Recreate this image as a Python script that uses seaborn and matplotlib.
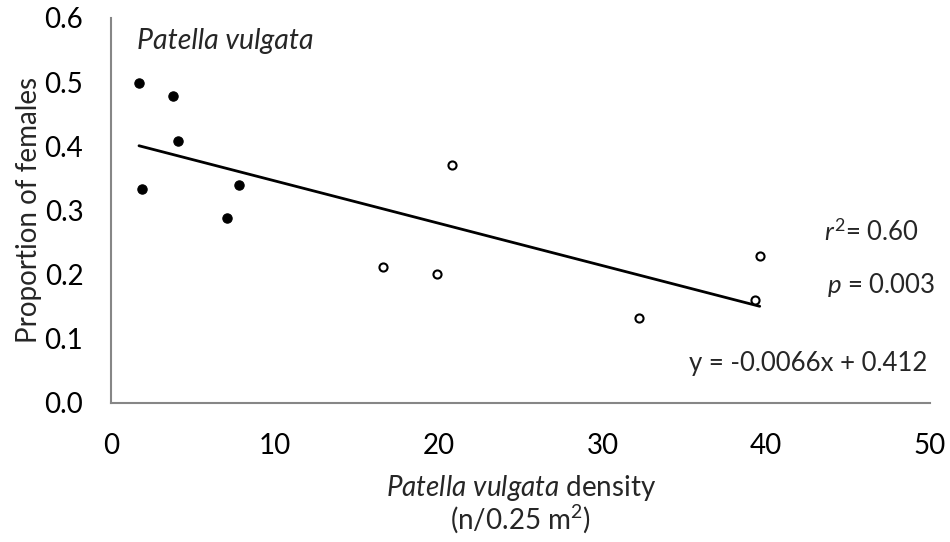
import numpy as np
import pandas as pd
import matplotlib
matplotlib.use("Agg")
import matplotlib.pyplot as plt
import seaborn as sns

# Low-density sites (filled) and high-density sites (open)
low_density = [1.7, 3.8, 4.1, 1.9, 7.8, 7.1]
low_females = [0.498, 0.478, 0.408, 0.333, 0.340, 0.288]
high_density = [16.6, 19.9, 20.8, 32.2, 39.3, 39.6]
high_females = [0.212, 0.201, 0.371, 0.132, 0.160, 0.229]

slope, intercept = -0.0066, 0.412
r2_text, p_text = "0.60", "0.003"

x_ticks = [0, 10, 20, 30, 40, 50]
y_ticks = [0.0, 0.1, 0.2, 0.3, 0.4, 0.5, 0.6]

sns.set_theme(style="white")
font = "Lato"
plt.rcParams["font.family"] = [font, "DejaVu Sans"]
plt.rcParams["mathtext.fontset"] = "custom"
plt.rcParams["mathtext.rm"] = font
plt.rcParams["mathtext.it"] = f"{font}:italic"

FS = 20
FS_STATS = 18.5

df = pd.DataFrame({
    "density": low_density + high_density,
    "females": low_females + high_females,
    "group": ["low"] * len(low_density) + ["high"] * len(high_density),
})

fig = plt.figure(figsize=(9.5, 5.42), dpi=100)
ax = fig.add_axes([0.117, 0.2565, 0.862, 0.7105])

sns.scatterplot(data=df[df.group == "low"], x="density", y="females", ax=ax,
                color="black", edgecolor="black", s=45, linewidth=0.8, zorder=3)
sns.scatterplot(data=df[df.group == "high"], x="density", y="females", ax=ax,
                facecolor="white", edgecolor="black", s=34, linewidth=1.5, zorder=3)

# Fitted regression line over the observed density range
xs = np.array([df.density.min(), df.density.max()])
sns.lineplot(x=xs, y=slope * xs + intercept, ax=ax, color="black", lw=2, zorder=2)

ax.set_xlim(0, 50)
ax.set_ylim(0, 0.6)
ax.set_xticks(x_ticks)
ax.set_yticks(y_ticks)
ax.set_xticklabels([str(t) for t in x_ticks])
ax.set_yticklabels([f"{t:.1f}" for t in y_ticks])

gray = "#868686"
for side in ["top", "right"]:
    ax.spines[side].set_visible(False)
for side in ["left", "bottom"]:
    ax.spines[side].set_color(gray)
    ax.spines[side].set_linewidth(1.5)
ax.tick_params(axis="both", which="major", direction="out", length=6.5, width=1.5,
               color=gray, labelsize=FS, labelcolor="black")
ax.tick_params(axis="x", pad=15)
ax.tick_params(axis="y", pad=13.5)

ax.set_ylabel("Proportion of females", fontsize=FS, labelpad=2)
ax.set_xlabel(r"$\it{Patella\ vulgata}$ density" + "\n" + r"(n/0.25 m$^2$)",
              fontsize=FS, labelpad=10, linespacing=1.0)

ax.text(1.6, 0.564, "Patella vulgata", fontsize=20.5, style="italic", va="center")
ax.text(49.3, 0.266, r"$\it{r}^2$= " + r2_text, fontsize=FS_STATS, ha="right", va="center")
ax.text(50.3, 0.184, r"$\it{p}$ = " + p_text, fontsize=FS_STATS, ha="right", va="center")
ax.text(49.8, 0.062, f"y = {slope:.4f}x + {intercept:.3f}", fontsize=FS_STATS,
        ha="right", va="center")

fig.savefig("out.png", dpi=100)
